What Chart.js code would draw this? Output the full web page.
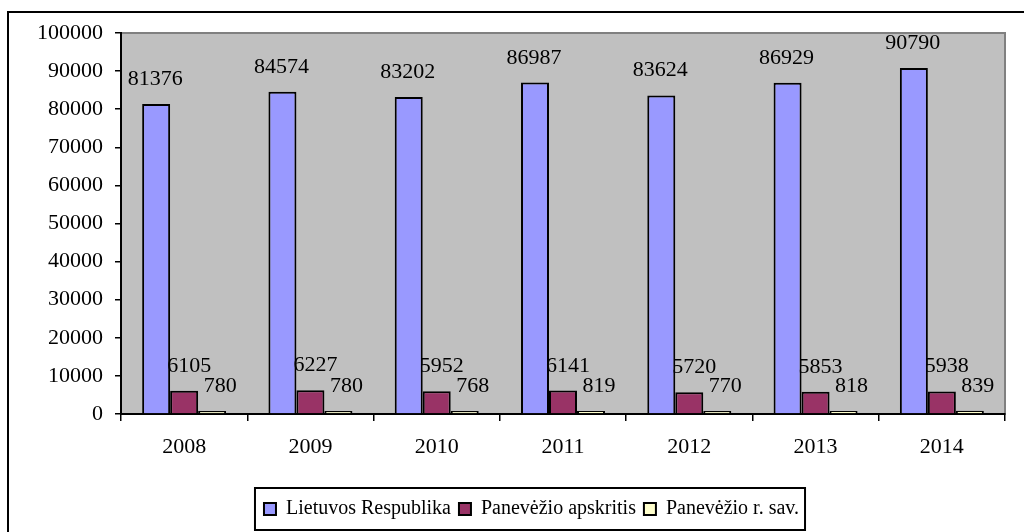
<!DOCTYPE html>
<html lang="lt">
<head>
<meta charset="UTF-8">
<title>Lietuvos Respublika / Panevėžio apskritis / Panevėžio r. sav.</title>
<style>
  html, body { margin: 0; padding: 0; background: #fff; }
  #wrap { width: 1024px; height: 532px; }
</style>
</head>
<body>
<div id="wrap"><canvas id="canvas" width="1024" height="532"></canvas></div>
<script src="https://cdn.jsdelivr.net/npm/chart.js@4/dist/chart.umd.min.js"></script>
<script>
'use strict';

var years = ['2008', '2009', '2010', '2011', '2012', '2013', '2014'];
var seriesNames = ['Lietuvos Respublika', 'Panevėžio apskritis', 'Panevėžio r. sav.'];
var lietuva = [81376, 84574, 83202, 86987, 83624, 86929, 90790];
var apskritis = [6105, 6227, 5952, 6141, 5720, 5853, 5938];
var rajonas = [780, 780, 768, 819, 770, 818, 839];
var yTicks = [0, 10000, 20000, 30000, 40000, 50000, 60000, 70000, 80000, 90000, 100000];

var FONT = 'Liberation Serif, Times New Roman, serif';
var colors = ['#9999FF', '#993366', '#FFFFCC'];
var labelShift = [-1, 5, 8];

// gray plot area + outer frame
var backdrop = {
  id: 'backdrop',
  beforeDraw: function(chart) {
    var c = chart.ctx, a = chart.chartArea;
    c.save();
    c.fillStyle = '#C0C0C0';
    c.fillRect(a.left, a.top, a.right - a.left, a.bottom - a.top);
    c.strokeStyle = '#808080';
    c.lineWidth = 2;
    c.strokeRect(a.left, a.top, a.right - a.left, a.bottom - a.top);
    c.strokeStyle = '#000';
    c.lineWidth = 2;
    c.strokeRect(8, 12, 1100, 600);
    c.restore();
  }
};

// value labels above bars
var valueLabels = {
  id: 'valueLabels',
  afterDatasetsDraw: function(chart) {
    var c = chart.ctx;
    c.save();
    c.font = '22px ' + FONT;
    c.fillStyle = '#000';
    c.textAlign = 'center';
    c.textBaseline = 'alphabetic';
    chart.data.datasets.forEach(function(ds, di) {
      chart.getDatasetMeta(di).data.forEach(function(bar, i) {
        c.fillText(String(ds.data[i]), bar.x + labelShift[di], bar.y - 19);
      });
    });
    c.restore();
  }
};

// legend sits a bit right of centre, inside a black box
var legendFrame = {
  id: 'legendFrame',
  afterLayout: function(chart) {
    chart.legend.left = 58;
  },
  afterDraw: function(chart) {
    var boxes = chart.legend.legendHitBoxes;
    if (!boxes || !boxes.length) return;
    var first = boxes[0], last = boxes[boxes.length - 1];
    var c = chart.ctx;
    c.save();
    c.strokeStyle = '#000';
    c.lineWidth = 2;
    var l = first.left - 9, r = last.left + last.width + 6;
    var cy = first.top + first.height / 2;
    c.strokeRect(l, cy - 21, r - l, 42);
    c.restore();
  }
};

var datasets = [lietuva, apskritis, rajonas].map(function(values, i) {
  return {
    label: seriesNames[i],
    data: values,
    backgroundColor: colors[i],
    borderColor: '#000',
    borderWidth: 2,
    categoryPercentage: 0.665,
    barPercentage: 1
  };
});

var config = {
  type: 'bar',
  data: { labels: years, datasets: datasets },
  options: {
    responsive: false,
    animation: false,
    devicePixelRatio: 1,
    layout: { padding: { top: 33, right: 19, bottom: 3, left: 0 } },
    plugins: {
      legend: {
        position: 'bottom',
        labels: {
          font: { family: FONT, size: 20 },
          color: '#000',
          boxWidth: 12,
          boxHeight: 12,
          padding: 8
        }
      },
      tooltip: { enabled: false }
    },
    scales: {
      x: {
        grid: { offset: true, drawOnChartArea: false, drawTicks: true, tickLength: 7, color: '#000', lineWidth: 1.5 },
        border: { display: true, color: '#000', width: 2 },
        ticks: { font: { family: FONT, size: 22 }, color: '#000', padding: 13 },
        afterFit: function(scale) { scale.height = 77; }
      },
      y: {
        min: 0,
        max: 100000,
        afterBuildTicks: function(scale) {
          scale.ticks = yTicks.map(function(v) { return { value: v }; });
        },
        grid: { drawOnChartArea: false, drawTicks: true, tickLength: 6, color: '#000', lineWidth: 1.5 },
        border: { display: true, color: '#000', width: 2 },
        ticks: {
          font: { family: FONT, size: 22 },
          color: '#000',
          padding: 12,
          callback: function(v) { return String(v); }
        },
        afterFit: function(scale) { scale.width = 121; }
      }
    }
  },
  plugins: [backdrop, valueLabels, legendFrame]
};

var ctx = document.getElementById('canvas').getContext('2d');
var chart = new Chart(ctx, config);
</script>
</body>
</html>
